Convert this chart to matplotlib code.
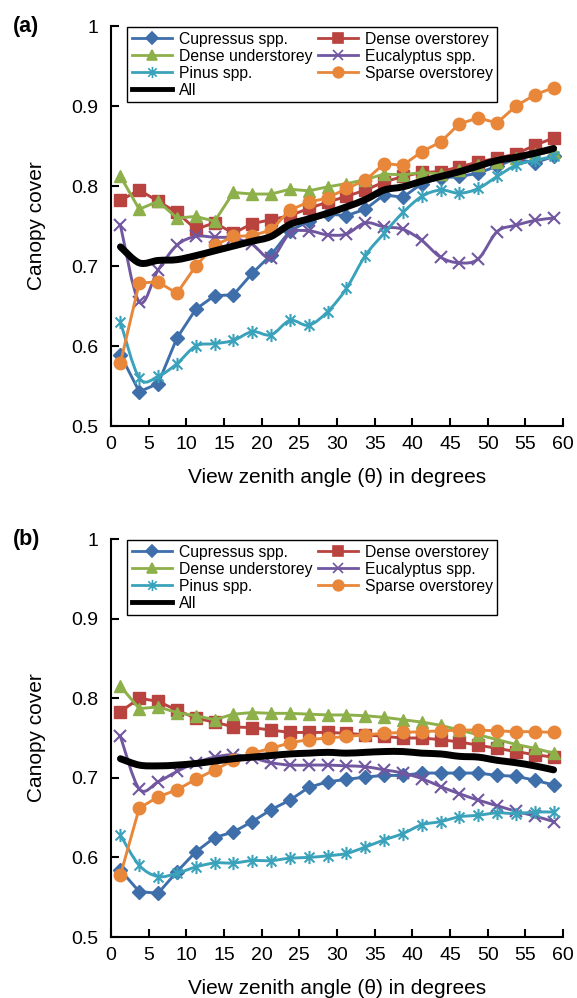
import numpy as np
import matplotlib
matplotlib.use("Agg")
import matplotlib.pyplot as plt
from matplotlib.path import Path
from matplotlib.patches import PathPatch
from matplotlib.lines import Line2D
from matplotlib.ticker import FuncFormatter

plt.rcParams['font.family'] = ['Liberation Sans', 'DejaVu Sans']

# view zenith angle bins (degrees)
angles = [1.25, 3.75, 6.25, 8.75, 11.25, 13.75, 16.25, 18.75, 21.25, 23.75, 26.25, 28.75,
          31.25, 33.75, 36.25, 38.75, 41.25, 43.75, 46.25, 48.75, 51.25, 53.75, 56.25, 58.75]

# panel (a)
cupressus_a = [0.589, 0.543, 0.553, 0.610, 0.646, 0.663, 0.664, 0.691, 0.714, 0.744, 0.756, 0.765,
               0.763, 0.771, 0.789, 0.786, 0.803, 0.810, 0.812, 0.816, 0.825, 0.834, 0.829, 0.837]
dense_over_a = [0.782, 0.795, 0.781, 0.767, 0.746, 0.754, 0.741, 0.753, 0.758, 0.763, 0.772, 0.780,
                0.787, 0.795, 0.805, 0.812, 0.817, 0.818, 0.824, 0.830, 0.835, 0.840, 0.851, 0.860]
dense_under_a = [0.812, 0.771, 0.781, 0.760, 0.762, 0.756, 0.792, 0.790, 0.790, 0.796, 0.794, 0.799,
                 0.803, 0.808, 0.815, 0.814, 0.817, 0.815, 0.820, 0.826, 0.830, 0.835, 0.840, 0.843]
eucalyptus_a = [0.751, 0.655, 0.695, 0.726, 0.737, 0.736, 0.735, 0.727, 0.710, 0.741, 0.744, 0.739,
                0.740, 0.754, 0.749, 0.746, 0.732, 0.711, 0.704, 0.709, 0.743, 0.751, 0.757, 0.760]
pinus_a = [0.630, 0.560, 0.562, 0.578, 0.600, 0.603, 0.607, 0.618, 0.614, 0.632, 0.626, 0.643,
           0.672, 0.713, 0.741, 0.767, 0.787, 0.795, 0.791, 0.797, 0.812, 0.826, 0.832, 0.837]
sparse_a = [0.579, 0.679, 0.680, 0.666, 0.700, 0.726, 0.737, 0.738, 0.745, 0.770, 0.780, 0.785,
            0.797, 0.807, 0.828, 0.826, 0.843, 0.855, 0.878, 0.885, 0.879, 0.900, 0.914, 0.923]
all_a = [0.724, 0.704, 0.707, 0.708, 0.713, 0.719, 0.725, 0.731, 0.737, 0.752, 0.759, 0.766,
         0.774, 0.783, 0.795, 0.799, 0.806, 0.812, 0.818, 0.825, 0.832, 0.836, 0.841, 0.847]

# panel (b)
cupressus_b = [0.584, 0.557, 0.555, 0.582, 0.607, 0.625, 0.632, 0.645, 0.660, 0.672, 0.688, 0.695,
               0.698, 0.701, 0.703, 0.703, 0.706, 0.706, 0.706, 0.706, 0.703, 0.702, 0.697, 0.691]
dense_over_b = [0.783, 0.800, 0.796, 0.785, 0.775, 0.770, 0.764, 0.763, 0.760, 0.757, 0.757, 0.757,
                0.756, 0.754, 0.752, 0.750, 0.750, 0.748, 0.745, 0.741, 0.737, 0.733, 0.729, 0.726]
dense_under_b = [0.815, 0.787, 0.789, 0.782, 0.778, 0.773, 0.780, 0.782, 0.781, 0.781, 0.780, 0.779,
                 0.779, 0.778, 0.776, 0.773, 0.770, 0.766, 0.760, 0.754, 0.748, 0.742, 0.737, 0.731]
eucalyptus_b = [0.752, 0.686, 0.695, 0.708, 0.719, 0.726, 0.729, 0.725, 0.719, 0.716, 0.716, 0.716,
                0.715, 0.714, 0.710, 0.706, 0.699, 0.689, 0.680, 0.672, 0.665, 0.658, 0.652, 0.645]
pinus_b = [0.628, 0.590, 0.576, 0.580, 0.588, 0.593, 0.593, 0.596, 0.596, 0.599, 0.600, 0.602,
           0.605, 0.613, 0.622, 0.630, 0.641, 0.645, 0.651, 0.653, 0.656, 0.655, 0.657, 0.657]
sparse_b = [0.578, 0.662, 0.676, 0.685, 0.698, 0.710, 0.722, 0.731, 0.737, 0.744, 0.748, 0.750,
            0.752, 0.754, 0.756, 0.757, 0.758, 0.759, 0.760, 0.760, 0.759, 0.758, 0.758, 0.757]
all_b = [0.724, 0.716, 0.715, 0.716, 0.718, 0.721, 0.724, 0.726, 0.728, 0.730, 0.731, 0.732,
         0.731, 0.732, 0.733, 0.733, 0.731, 0.730, 0.727, 0.726, 0.722, 0.719, 0.715, 0.710]

names = ['Cupressus spp.', 'Dense overstorey', 'Dense understorey', 'Eucalyptus spp.',
         'Pinus spp.', 'Sparse overstorey', 'All']
colors = ['#3f6fab', '#b8433f', '#8db04a', '#7157a0', '#3aa2ba', '#e8873a', 'black']

# asterisk marker like excel's "star"
star = Path([(0, -1), (0, 1), (-0.75, -0.75), (0.75, 0.75), (-0.75, 0.75), (0.75, -0.75)],
            [Path.MOVETO, Path.LINETO, Path.MOVETO, Path.LINETO, Path.MOVETO, Path.LINETO])
markers = ['D', 's', '^', 'x', star, 'o', None]
msizes = [7.5, 8, 9, 8.5, 9.5, 9, 0]
smooth = [False, False, False, True, True, False, True]


def smooth_path(x, y):
    pts = np.column_stack([x, y])
    n = len(pts)
    verts = [pts[0]]
    codes = [Path.MOVETO]
    for i in range(n - 1):
        p0 = pts[max(i - 1, 0)]
        p1 = pts[i]
        p2 = pts[i + 1]
        p3 = pts[min(i + 2, n - 1)]
        verts += [p1 + (p2 - p0) / 6, p2 - (p3 - p1) / 6, p2]
        codes += [Path.CURVE4] * 3
    return Path(verts, codes)


def draw_panel(ax, series, letter):
    handles = []
    for k, ys in enumerate(series):
        c = colors[k]
        lw = 5 if k == 6 else 2.1
        z = 2 + k
        if smooth[k]:
            ax.add_patch(PathPatch(smooth_path(angles, ys), fill=False, edgecolor=c, lw=lw,
                                   capstyle='round', joinstyle='round', zorder=z))
        else:
            ax.plot(angles, ys, '-', color=c, lw=lw, zorder=z)
        if markers[k] is not None:
            mew = 1.5 if k in (3, 4) else 1
            ax.plot(angles, ys, ls='none', marker=markers[k], ms=msizes[k], color=c,
                    mec=c, mew=mew, zorder=z)
        handles.append(Line2D([], [], color=c, lw=3.5 if k == 6 else 2.0,
                              marker=markers[k], ms=msizes[k] * 0.85, mew=1.2, mec=c))
    order = [0, 2, 4, 6, 1, 3, 5]
    leg = ax.legend([handles[i] for i in order], [names[i] for i in order], ncol=2,
                    loc='upper left', bbox_to_anchor=(0.035, 0.997), borderaxespad=0,
                    fontsize=11.3, frameon=True, fancybox=False, framealpha=1,
                    edgecolor='black', handlelength=2.6, handletextpad=0.4,
                    columnspacing=0.35, labelspacing=0.12, borderpad=0.3)
    leg.get_frame().set_linewidth(1.0)

    ax.set_xlim(0, 60)
    ax.set_ylim(0.5, 1.0)
    ax.set_xticks(range(0, 61, 5))
    ax.set_yticks([0.5, 0.6, 0.7, 0.8, 0.9, 1.0])
    ax.yaxis.set_major_formatter(FuncFormatter(lambda v, p: '{:g}'.format(round(v, 1))))
    for s in ['top', 'right']:
        ax.spines[s].set_visible(False)
    for s in ['left', 'bottom']:
        ax.spines[s].set_linewidth(1.5)
    ax.tick_params(axis='both', direction='in', length=6, width=1.5, labelsize=14)
    ax.tick_params(axis='y', pad=9)
    ax.tick_params(axis='x', pad=7)
    ax.set_xlabel('View zenith angle (\u03b8) in degrees', fontsize=15, labelpad=11)
    ax.set_ylabel('Canopy cover', fontsize=15, labelpad=18)
    ax.text(-0.218, 1.0, letter, transform=ax.transAxes, fontsize=15.5, fontweight='bold',
            va='center', ha='left')


fig = plt.figure(figsize=(5.77, 9.98), dpi=100)
ax1 = fig.add_axes([0.1924, 0.5731, 0.7834, 0.4008])
ax2 = fig.add_axes([0.1924, 0.0611, 0.7834, 0.3988])

draw_panel(ax1, [cupressus_a, dense_over_a, dense_under_a, eucalyptus_a, pinus_a, sparse_a, all_a], '(a)')
draw_panel(ax2, [cupressus_b, dense_over_b, dense_under_b, eucalyptus_b, pinus_b, sparse_b, all_b], '(b)')

fig.savefig('out.png', dpi=100)
